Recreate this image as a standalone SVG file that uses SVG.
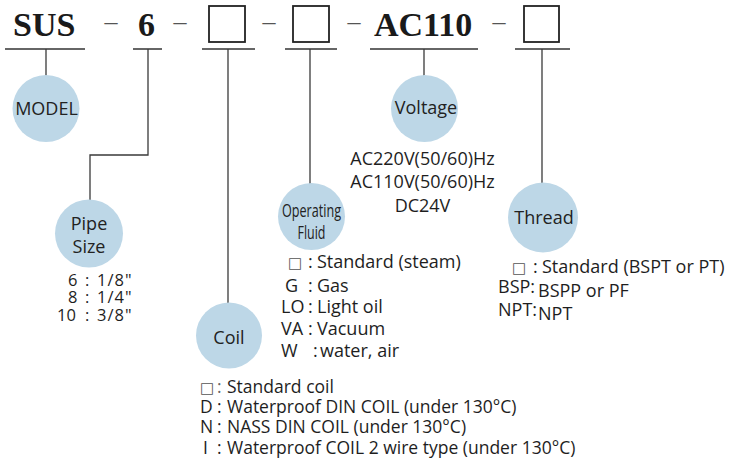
<svg xmlns="http://www.w3.org/2000/svg" width="736" height="462" viewBox="0 0 736 462">
<style>
.code{font-family:'Liberation Serif','Times New Roman',serif;font-weight:bold;font-size:34px;fill:#1a1a1a}
.dash{font-family:'Liberation Serif','Times New Roman',serif;font-size:26px;fill:#555;text-anchor:middle}
.box{fill:none;stroke:#222;stroke-width:1.8}
.ul{stroke:#333;stroke-width:1.5}
.conn{stroke:#3a3a3a;stroke-width:1.3;fill:none}
.bub{fill:#bdd7e7}
.lbl{font-family:'Open Sans','DejaVu Sans',sans-serif;font-size:18px;fill:#222;text-anchor:middle}
.t{font-family:'Open Sans','DejaVu Sans',sans-serif;font-size:18px;fill:#1e1e1e}
.s{font-size:16.5px}
.v{letter-spacing:1px}
.c{font-size:17.5px}
.sq{font-size:15px;fill:#555}
.mid{text-anchor:middle}
</style>
<rect width="736" height="462" fill="#fff"/>
<g id="header">
  <text class="code" x="13" y="36">SUS</text>
  <text class="dash" x="111" y="30">–</text>
  <text class="code" x="138" y="36">6</text>
  <text class="dash" x="180" y="30">–</text>
  <rect class="box" x="209" y="6" width="36" height="36"/>
  <text class="dash" x="269" y="30">–</text>
  <rect class="box" x="293" y="6" width="36" height="36"/>
  <text class="dash" x="354" y="30">–</text>
  <text class="code" x="374" y="36">AC110</text>
  <text class="dash" x="499" y="30">–</text>
  <rect class="box" x="524" y="6" width="35" height="36"/>
</g>
<g id="connectors">
  <line class="ul" x1="5" y1="49" x2="85" y2="49"/>
  <line class="ul" x1="133" y1="49" x2="162" y2="49"/>
  <line class="ul" x1="202" y1="49" x2="255" y2="49"/>
  <line class="ul" x1="285" y1="49" x2="337" y2="49"/>
  <line class="ul" x1="370" y1="49" x2="478" y2="49"/>
  <line class="ul" x1="515" y1="49" x2="570" y2="49"/>
  <line class="conn" x1="46" y1="49" x2="46" y2="76"/>
  <polyline class="conn" points="148,49 148,155 90,155 90,200"/>
  <line class="conn" x1="228" y1="49" x2="228" y2="303"/>
  <line class="conn" x1="310" y1="49" x2="310" y2="184"/>
  <line class="conn" x1="424" y1="49" x2="424" y2="76"/>
  <line class="conn" x1="542" y1="49" x2="542" y2="184"/>
</g>
<g id="model">
  <circle class="bub" cx="46" cy="108.5" r="33.5"/>
  <text class="lbl" x="46.5" y="115">MODEL</text>
</g>
<g id="pipe-size">
  <circle class="bub" cx="89" cy="233.5" r="34"/>
  <text class="lbl" x="89" y="230">Pipe</text>
  <text class="lbl" x="89" y="253">Size</text>
  <text class="t s" x="68" y="286">6<tspan x="85">:</tspan><tspan x="97" class="v">1/8"</tspan></text>
  <text class="t s" x="68" y="303">8<tspan x="85">:</tspan><tspan x="97" class="v">1/4"</tspan></text>
  <text class="t s" x="57" y="321">10<tspan x="85">:</tspan><tspan x="97" class="v">3/8"</tspan></text>
</g>
<g id="coil">
  <circle class="bub" cx="229" cy="335.5" r="33"/>
  <text class="lbl" x="229" y="344">Coil</text>
  <text class="t c" x="200" y="393"><tspan class="sq">□</tspan><tspan x="217" fill="#666">:</tspan><tspan x="227">Standard coil</tspan></text>
  <text class="t c" x="200" y="413">D<tspan x="217">:</tspan><tspan x="227">Waterproof DIN COIL (under 130°C)</tspan></text>
  <text class="t c" x="200" y="433">N<tspan x="217">:</tspan><tspan x="227">NASS DIN COIL (under 130°C)</tspan></text>
  <text class="t c" x="203" y="454">I<tspan x="217">:</tspan><tspan x="227">Waterproof COIL 2 wire type (under 130°C)</tspan></text>
</g>
<g id="operating-fluid">
  <circle class="bub" cx="311.5" cy="216.5" r="33.5"/>
  <text class="lbl" x="311.5" y="217" font-size="17" textLength="59" lengthAdjust="spacingAndGlyphs">Operating</text>
  <text class="lbl" x="311.5" y="239" font-size="17" textLength="28" lengthAdjust="spacingAndGlyphs">Fluid</text>
  <text class="t" x="288" y="268"><tspan class="sq">□</tspan><tspan x="308">:</tspan><tspan x="317">Standard (steam)</tspan></text>
  <text class="t" x="285" y="292">G<tspan x="308">:</tspan><tspan x="317">Gas</tspan></text>
  <text class="t" x="281" y="313">LO<tspan x="308">:</tspan><tspan x="317">Light oil</tspan></text>
  <text class="t" x="281" y="335">VA<tspan x="308">:</tspan><tspan x="317">Vacuum</tspan></text>
  <text class="t" x="281" y="357">W<tspan x="313">:</tspan><tspan x="320">water, air</tspan></text>
</g>
<g id="voltage">
  <circle class="bub" cx="424.5" cy="108.5" r="33.5"/>
  <text class="lbl" x="426" y="114">Voltage</text>
  <text class="t mid" x="422.5" y="165">AC220V(50/60)Hz</text>
  <text class="t mid" x="422.5" y="188">AC110V(50/60)Hz</text>
  <text class="t mid" x="422.5" y="212">DC24V</text>
</g>
<g id="thread">
  <circle class="bub" cx="543" cy="217.5" r="35"/>
  <text class="lbl" x="544" y="224">Thread</text>
  <text class="t" x="512" y="273"><tspan class="sq">□</tspan><tspan x="533">:</tspan><tspan x="542">Standard (BSPT or PT)</tspan></text>
  <text class="t" x="498" y="293">BSP:<tspan x="538" y="297">BSPP or PF</tspan></text>
  <text class="t" x="498" y="316">NPT:<tspan x="538" y="320">NPT</tspan></text>
</g>
</svg>
